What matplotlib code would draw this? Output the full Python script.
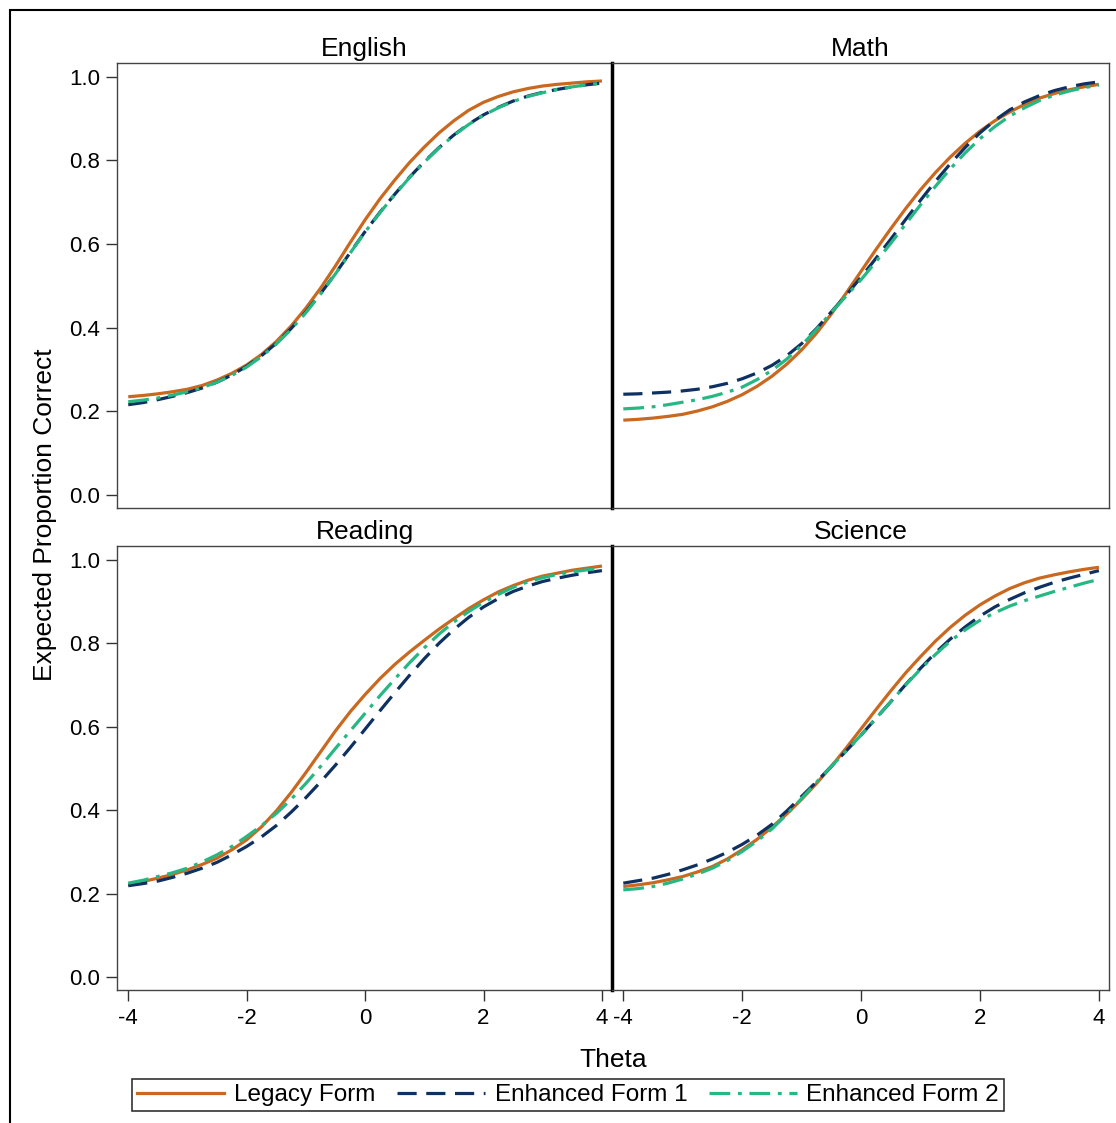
import numpy as np
import matplotlib.pyplot as plt
from matplotlib.lines import Line2D
from matplotlib.patches import Rectangle

plt.rcParams['font.family'] = ['Liberation Sans', 'DejaVu Sans']
plt.rcParams['axes.unicode_minus'] = False

theta = [-4, -3.75, -3.5, -3.25, -3, -2.75, -2.5, -2.25, -2, -1.75, -1.5, -1.25,
         -1, -0.75, -0.5, -0.25, 0, 0.25, 0.5, 0.75, 1, 1.25, 1.5, 1.75,
         2, 2.25, 2.5, 2.75, 3, 3.25, 3.5, 3.75, 4]

# English
english_legacy = [0.235, 0.238, 0.242, 0.247, 0.253, 0.262, 0.275, 0.291, 0.311, 0.336, 0.367, 0.404,
                  0.447, 0.495, 0.548, 0.604, 0.658, 0.708, 0.753, 0.795, 0.832, 0.866, 0.895, 0.920,
                  0.939, 0.953, 0.964, 0.972, 0.978, 0.982, 0.985, 0.988, 0.990]
english_form1 = [0.216, 0.221, 0.228, 0.236, 0.245, 0.256, 0.270, 0.287, 0.308, 0.333, 0.363, 0.398,
                 0.438, 0.482, 0.530, 0.580, 0.630, 0.676, 0.719, 0.760, 0.797, 0.831, 0.861, 0.887,
                 0.909, 0.927, 0.942, 0.954, 0.963, 0.970, 0.976, 0.981, 0.985]
english_form2 = [0.223, 0.227, 0.232, 0.239, 0.247, 0.257, 0.270, 0.286, 0.306, 0.331, 0.361, 0.396,
                 0.436, 0.481, 0.529, 0.579, 0.629, 0.675, 0.718, 0.759, 0.796, 0.830, 0.860, 0.886,
                 0.908, 0.926, 0.941, 0.953, 0.962, 0.970, 0.976, 0.981, 0.985]
# Math
math_legacy = [0.179, 0.181, 0.184, 0.188, 0.193, 0.201, 0.211, 0.224, 0.240, 0.260, 0.284, 0.313,
               0.347, 0.387, 0.433, 0.483, 0.535, 0.587, 0.637, 0.685, 0.730, 0.771, 0.808, 0.841,
               0.870, 0.895, 0.916, 0.934, 0.949, 0.960, 0.969, 0.976, 0.982]
math_form1 = [0.241, 0.242, 0.244, 0.246, 0.249, 0.253, 0.259, 0.267, 0.278, 0.292, 0.310, 0.333,
              0.362, 0.398, 0.438, 0.478, 0.521, 0.566, 0.612, 0.659, 0.705, 0.750, 0.792, 0.831,
              0.866, 0.896, 0.921, 0.940, 0.955, 0.967, 0.976, 0.983, 0.988]
math_form2 = [0.206, 0.208, 0.211, 0.216, 0.222, 0.228, 0.236, 0.246, 0.258, 0.276, 0.298, 0.325,
              0.358, 0.396, 0.437, 0.476, 0.515, 0.558, 0.602, 0.648, 0.694, 0.738, 0.780, 0.818,
              0.852, 0.881, 0.906, 0.926, 0.943, 0.956, 0.966, 0.974, 0.980]
# Reading
reading_legacy = [0.221, 0.229, 0.237, 0.246, 0.257, 0.270, 0.285, 0.305, 0.329, 0.360, 0.398, 0.442,
                  0.490, 0.540, 0.590, 0.636, 0.677, 0.715, 0.749, 0.779, 0.807, 0.834, 0.859, 0.883,
                  0.904, 0.923, 0.938, 0.951, 0.961, 0.968, 0.975, 0.980, 0.985]
reading_form1 = [0.219, 0.224, 0.230, 0.239, 0.249, 0.261, 0.275, 0.293, 0.313, 0.336, 0.363, 0.395,
                 0.430, 0.468, 0.508, 0.550, 0.594, 0.638, 0.681, 0.723, 0.763, 0.800, 0.833, 0.862,
                 0.887, 0.907, 0.924, 0.937, 0.948, 0.956, 0.963, 0.969, 0.974]
reading_form2 = [0.225, 0.232, 0.241, 0.250, 0.261, 0.276, 0.293, 0.313, 0.337, 0.363, 0.392, 0.426,
                 0.464, 0.505, 0.548, 0.590, 0.632, 0.674, 0.714, 0.753, 0.789, 0.822, 0.851, 0.876,
                 0.898, 0.917, 0.934, 0.947, 0.957, 0.965, 0.971, 0.976, 0.980]
# Science
science_legacy = [0.217, 0.221, 0.226, 0.233, 0.241, 0.252, 0.265, 0.283, 0.305, 0.330, 0.359, 0.391,
                  0.426, 0.464, 0.505, 0.549, 0.595, 0.641, 0.686, 0.729, 0.768, 0.805, 0.838, 0.867,
                  0.892, 0.913, 0.931, 0.945, 0.956, 0.964, 0.971, 0.977, 0.982]
science_form1 = [0.225, 0.231, 0.237, 0.246, 0.257, 0.269, 0.283, 0.299, 0.318, 0.340, 0.366, 0.398,
                 0.433, 0.468, 0.505, 0.542, 0.580, 0.620, 0.660, 0.701, 0.740, 0.777, 0.810, 0.839,
                 0.865, 0.887, 0.905, 0.921, 0.934, 0.946, 0.956, 0.965, 0.974]
science_form2 = [0.209, 0.212, 0.217, 0.225, 0.235, 0.247, 0.261, 0.279, 0.301, 0.326, 0.355, 0.390,
                 0.428, 0.467, 0.505, 0.542, 0.580, 0.620, 0.660, 0.700, 0.738, 0.773, 0.805, 0.832,
                 0.855, 0.873, 0.889, 0.902, 0.913, 0.924, 0.934, 0.944, 0.953]

subjects = ['English', 'Math', 'Reading', 'Science']
curves = {
    'English': (english_legacy, english_form1, english_form2),
    'Math': (math_legacy, math_form1, math_form2),
    'Reading': (reading_legacy, reading_form1, reading_form2),
    'Science': (science_legacy, science_form1, science_form2),
}
labels = ['Legacy Form', 'Enhanced Form 1', 'Enhanced Form 2']
colors = ['#C9681E', '#0E3162', '#25B882']
dash_styles = [None, (6.0, 3.0), (6.5, 2.4, 1.2, 2.4)]

W, H = 1116, 1123
fig = plt.figure(figsize=(W / 100, H / 100), dpi=100)

# panel frames in pixels: (left, top, right, bottom)
boxes = [(117, 63, 612, 508), (612, 63, 1109, 508),
         (117, 546, 612, 990), (612, 546, 1109, 990)]

for i, name in enumerate(subjects):
    l, t, r, b = boxes[i]
    ax = fig.add_axes([l / W, 1 - b / H, (r - l) / W, (b - t) / H])
    for k in range(3):
        ln, = ax.plot(theta, curves[name][k], color=colors[k], lw=2.3,
                      solid_capstyle='butt', dash_capstyle='butt')
        if dash_styles[k] is not None:
            ln.set_dashes(dash_styles[k])
    ax.set_xlim(-4.19, 4.17)
    ax.set_ylim(-0.031, 1.033)
    ax.set_xticks([-4, -2, 0, 2, 4])
    ax.set_yticks([0.0, 0.2, 0.4, 0.6, 0.8, 1.0])
    ax.set_yticklabels(['0.0', '0.2', '0.4', '0.6', '0.8', '1.0'])
    ax.tick_params(direction='out', length=8, width=1, color='#333333',
                   labelsize=16, pad=4)
    ax.tick_params(axis='x', pad=5)
    for s in ax.spines.values():
        s.set_color('#444444')
        s.set_linewidth(1)
    if i % 2 == 1:
        ax.tick_params(axis='y', left=False, labelleft=False)
        ax.spines['left'].set_color('black')
        ax.spines['left'].set_linewidth(2.5)
    if i < 2:
        ax.tick_params(axis='x', bottom=False, labelbottom=False)
    ax.set_title(name, fontsize=19, pad=5)

fig.text(45 / W, 1 - 515 / H, 'Expected Proportion Correct', rotation=90,
         ha='center', va='center', fontsize=19)
fig.text(613 / W, 1 - 1060 / H, 'Theta', ha='center', va='center', fontsize=19)

handles = []
for k in range(3):
    h = Line2D([0], [0], color=colors[k], lw=2.3)
    if dash_styles[k] is not None:
        h.set_dashes(dash_styles[k])
    handles.append(h)
leg = fig.legend(handles, labels, loc='center', ncol=3,
                 bbox_to_anchor=(568 / W, 1 - 1095 / H), fontsize=17.5,
                 frameon=True, fancybox=False, edgecolor='black',
                 handlelength=3.6, columnspacing=0.9, handletextpad=0.4,
                 borderpad=0.2, borderaxespad=0)
leg.get_frame().set_linewidth(1.2)

fig.patches.append(Rectangle((10 / W, -0.05), 1.1, 1 - 10 / H + 0.05,
                             transform=fig.transFigure, fill=False,
                             edgecolor='black', lw=1.5))

fig.savefig('out.png', dpi=100)
